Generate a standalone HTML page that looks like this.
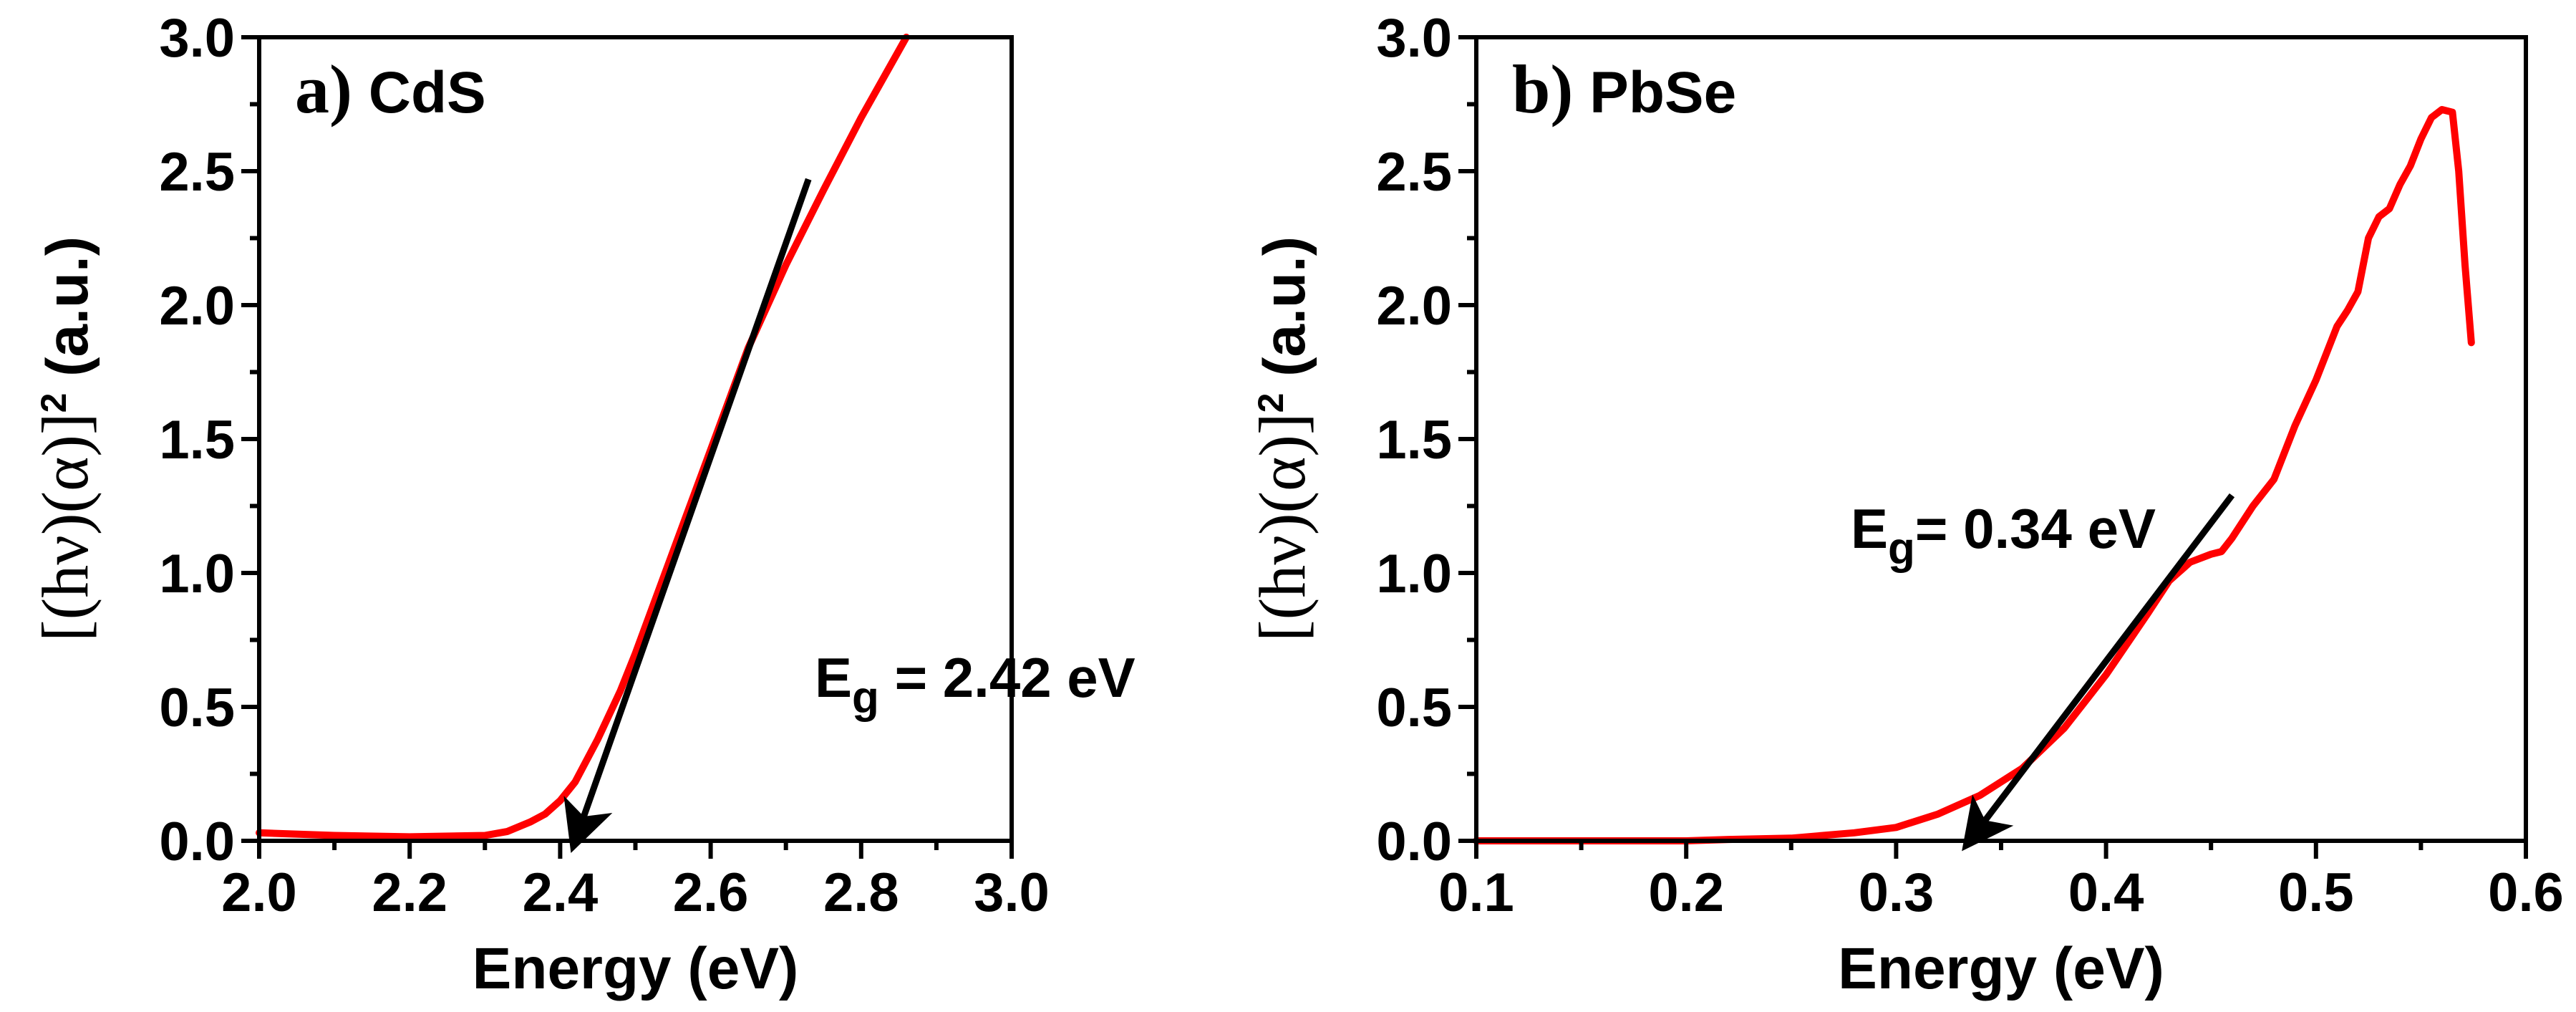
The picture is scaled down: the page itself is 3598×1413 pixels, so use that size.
<!DOCTYPE html>
<html><head><meta charset="utf-8"><style>
html,body{margin:0;padding:0;background:#fff;}
svg{display:block;}
text{font-family:"Liberation Sans",sans-serif;font-weight:bold;fill:#000;}
.serif{font-family:"Liberation Serif",serif;}
</style></head><body>
<svg id="fig" width="3598" height="1413" viewBox="0 0 3598 1413" xmlns="http://www.w3.org/2000/svg">
<defs><marker id="ah" markerWidth="8" markerHeight="8" refX="6" refY="4" orient="auto" markerUnits="strokeWidth"><path d="M0,0 L8,4 L0,8 L2,4 z" fill="#000"/></marker></defs>
</svg>
<script>
const cdsX=[2.0,2.1,2.2,2.3,2.33,2.36,2.38,2.4,2.42,2.45,2.48,2.5,2.55,2.6,2.65,2.7,2.75,2.8,2.86];
const cdsY=[0.03,0.02,0.015,0.02,0.035,0.07,0.1,0.15,0.22,0.38,0.56,0.7,1.08,1.46,1.84,2.15,2.43,2.7,3.0];
const pbseX=[0.1,0.15,0.2,0.22,0.25,0.28,0.3,0.32,0.34,0.36,0.38,0.4,0.42,0.43,0.44,0.45,0.455,0.46,0.47,0.48,0.49,0.5,0.51,0.515,0.52,0.525,0.53,0.535,0.54,0.545,0.55,0.555,0.56,0.565,0.568,0.571,0.574];
const pbseY=[0.0,0.0,0.0,0.005,0.01,0.03,0.05,0.1,0.17,0.27,0.42,0.62,0.85,0.97,1.04,1.07,1.08,1.13,1.25,1.35,1.55,1.72,1.92,1.98,2.05,2.25,2.33,2.36,2.45,2.52,2.62,2.7,2.73,2.72,2.5,2.15,1.86];
const cdsXTicks=["2.0","2.2","2.4","2.6","2.8","3.0"];
const pbseXTicks=["0.1","0.2","0.3","0.4","0.5","0.6"];
const yTicks=["0.0","0.5","1.0","1.5","2.0","2.5","3.0"];
const cdsArrow=[[2.73,2.47],[2.42,0.0]];
const pbseArrow=[[0.46,1.29],[0.335,0.0]];

const NS="http://www.w3.org/2000/svg";
const svg=document.getElementById('fig');
function mk(t,a,p){const e=document.createElementNS(NS,t);for(const k in a)e.setAttribute(k,a[k]);(p||svg).appendChild(e);return e;}

function panel(o){
  const g=mk('g',{});
  
  
  const X=v=>o.x0+(v-o.xmin)/(o.xmax-o.xmin)*(o.x1-o.x0);
  const Y=v=>o.y1-(v-0)/3*(o.y1-o.y0);
  let d=o.xs.map((x,i)=>(i?'L':'M')+X(x).toFixed(1)+','+Y(o.ys[i]).toFixed(1)).join(' ');
  const c=mk('path',{d:d,fill:'none',stroke:'#ff0000','stroke-width':10,'stroke-linejoin':'round','stroke-linecap':'round'},g);
  
  
  const a=mk('line',{x1:X(o.arrow[0][0]),y1:Y(o.arrow[0][1]),x2:X(o.arrow[1][0]),y2:Y(o.arrow[1][1]),stroke:'#000','stroke-width':9,'marker-end':'url(#ah)'},g);
  
  
  const f=mk('rect',{x:o.x0,y:o.y0,width:o.x1-o.x0,height:o.y1-o.y0,fill:'none',stroke:'#000','stroke-width':6},g);
  
  
  const n=o.xt.length;
  for(let i=0;i<n;i++){
    const v=parseFloat(o.xt[i]);const px=X(v);
    mk('line',{x1:px,y1:o.y1,x2:px,y2:o.y1+25,stroke:'#000','stroke-width':6},g);
    if(i<n-1){const m=X(v+(parseFloat(o.xt[1])-parseFloat(o.xt[0]))/2);mk('line',{x1:m,y1:o.y1,x2:m,y2:o.y1+13,stroke:'#000','stroke-width':6},g);}
    const t=mk('text',{x:px,y:1272,'font-size':76,'text-anchor':'middle'},g);t.textContent=o.xt[i];
    
    
  }
  for(let i=0;i<yTicks.length;i++){
    const v=parseFloat(yTicks[i]);const py=Y(v);
    mk('line',{x1:o.x0,y1:py,x2:o.x0-25,y2:py,stroke:'#000','stroke-width':6},g);
    if(i<yTicks.length-1){const m=Y(v+0.25);mk('line',{x1:o.x0,y1:m,x2:o.x0-13,y2:m,stroke:'#000','stroke-width':6},g);}
    const t=mk('text',{x:o.x0-34,y:py+27,'font-size':76,'text-anchor':'end'},g);t.textContent=yTicks[i];
    
    
  }
  const xt=mk('text',{x:(o.x0+o.x1)/2,y:1380,'font-size':82,'text-anchor':'middle'},g);xt.textContent='Energy (eV)';
  
  
  const yt=mk('text',{x:0,y:0,'font-size':82,'text-anchor':'middle',transform:`translate(${o.x0-240},${(o.y0+o.y1)/2}) rotate(-90)`},g);
  yt.innerHTML='<tspan class="serif" font-weight="normal" font-size="92">[(hν)(α)]</tspan><tspan font-size="50" dy="-30">2</tspan><tspan dy="30"> (a.u.)</tspan>';
  
  
  const pl=mk('text',{x:o.x0+50,y:157,'font-size':82},g);
  pl.innerHTML='<tspan class="serif" font-size="96">'+o.letter+'</tspan> '+o.mat;
  
  
  const eg=mk('text',{x:o.egx,y:o.egy,'font-size':78},g);
  eg.innerHTML='E<tspan font-size="62" dy="22">g</tspan><tspan dy="-22">'+o.eg+'</tspan>';
  
  
}
panel({name:'cds-panel',x0:362,x1:1413,y0:52,y1:1174,xmin:2.0,xmax:3.0,xs:cdsX,ys:cdsY,xt:cdsXTicks,arrow:cdsArrow,letter:'a)',mat:'CdS',eg:' = 2.42 eV',egx:1138,egy:973});
panel({name:'pbse-panel',x0:2062,x1:3528,y0:52,y1:1174,xmin:0.1,xmax:0.6,xs:pbseX,ys:pbseY,xt:pbseXTicks,arrow:pbseArrow,letter:'b)',mat:'PbSe',eg:'= 0.34 eV',egx:2585,egy:765});
</script>
</body></html>
